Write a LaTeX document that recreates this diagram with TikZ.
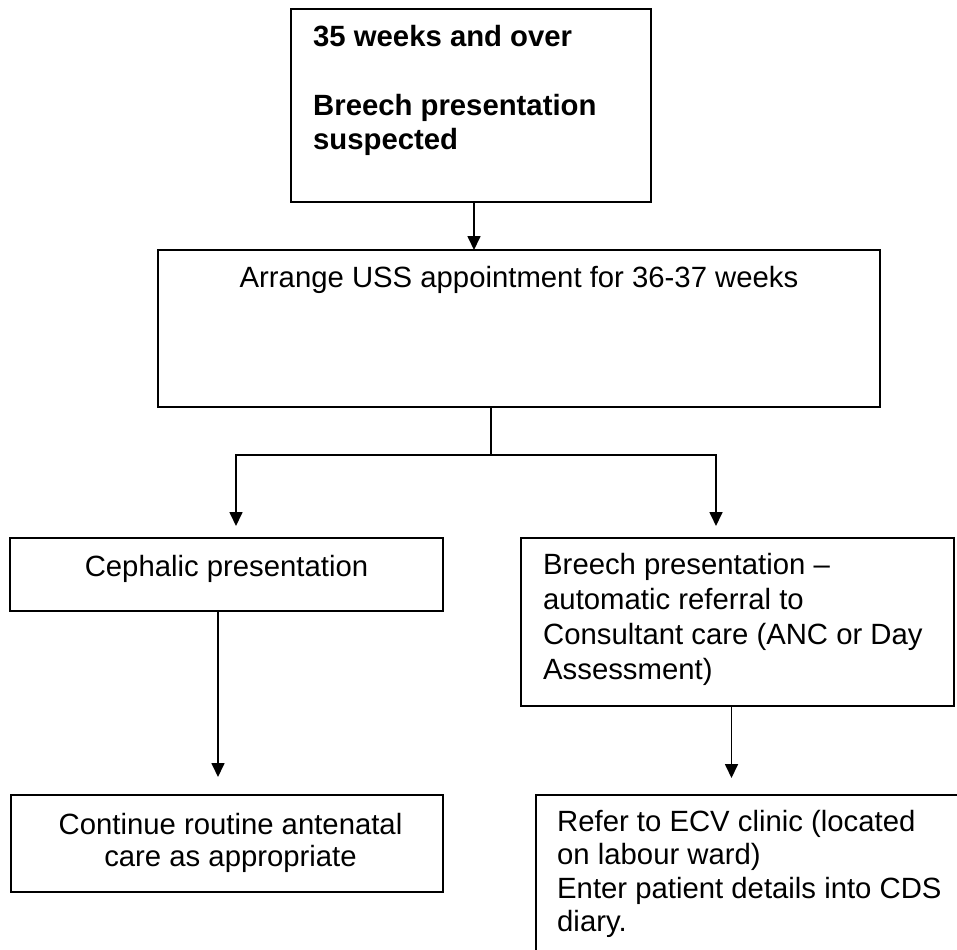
\documentclass[tikz,border=0pt]{standalone}
\usepackage{fontspec}
\setmainfont{Liberation Sans}
\usetikzlibrary{arrows.meta}
\tikzset{
  box/.style={draw=black, line width=1.7bp, inner sep=0pt, outer sep=0pt},
  txt/.style={inner sep=0pt, text=black, font=\fontsize{29.3bp}{34bp}\selectfont},
  arr/.style={line width=1.7bp, draw=black, -{Triangle[width=13bp,length=14bp]}},
  ln/.style={line width=1.7bp, draw=black}
}
\newcommand\firstline{\rule{0pt}{24bp}}
\begin{document}
\begin{tikzpicture}[x=1bp,y=-1bp]
\useasboundingbox (0,0) rectangle (957,950);
% boxes
\node[box, minimum width=360bp, minimum height=193bp] (top) at (471,105.5) {};
\node[box, minimum width=722bp, minimum height=157bp] (uss) at (519,328.5) {};
\node[box, minimum width=433bp, minimum height=73bp] (ceph) at (226.5,574.5) {};
\node[box, minimum width=433bp, minimum height=168bp] (breech) at (737.5,622) {};
\node[box, minimum width=432bp, minimum height=97bp] (cont) at (227,843.5) {};
\node[box, minimum width=439bp, minimum height=190bp] (refer) at (755.5,890) {};
% texts
\node[txt, anchor=north west, align=left, font=\fontsize{29.3bp}{34.5bp}\selectfont\bfseries] (toptext) at (313,22)
  {\firstline 35 weeks and over\\[34.5bp]Breech presentation\\suspected};
\node[txt, anchor=north, align=center] (usstext) at (519,263)
  {\firstline Arrange USS appointment for 36-37 weeks};
\node[txt, anchor=north, align=center] (cephtext) at (226.5,552)
  {\firstline Cephalic presentation};
\node[txt, anchor=north west, align=left, font=\fontsize{29.3bp}{35bp}\selectfont] (breechtext) at (543,550)
  {\firstline Breech presentation --\\automatic referral to\\Consultant care (ANC or Day\\Assessment)};
\node[txt, anchor=north, align=center, font=\fontsize{29.3bp}{32bp}\selectfont] (conttext) at (230.5,810)
  {\firstline Continue routine antenatal\\care as appropriate};
\node[txt, anchor=north west, align=left, font=\fontsize{29.3bp}{33.5bp}\selectfont] (refertext) at (557,807)
  {\firstline Refer to ECV clinic (located\\on labour ward)\\Enter patient details into CDS\\diary.};
% connectors
\draw[arr] ([xshift=3bp]top.south) -- ([xshift=3bp]top.south |- uss.north);
\coordinate (j) at (491,455);
\draw[ln] (j |- uss.south) -- (j);
\draw[arr, shorten >=12bp] (j) -| ([xshift=9.5bp]ceph.north);
\draw[arr, shorten >=12bp] (j) -| ([xshift=-21.5bp]breech.north);
\draw[arr, shorten >=18bp] ([xshift=-8.5bp]ceph.south) -- ([xshift=-8.5bp]ceph.south |- cont.north);
\draw[arr, shorten >=17bp] ([xshift=-6bp]breech.south) -- ([xshift=-6bp]breech.south |- refer.north);
\end{tikzpicture}
\end{document}
